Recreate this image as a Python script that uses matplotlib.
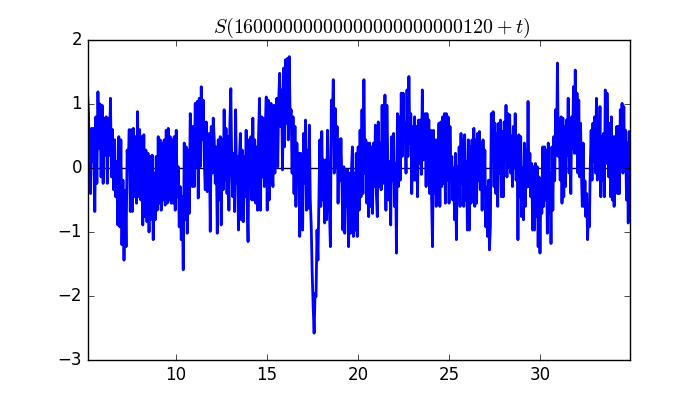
import numpy as np
import matplotlib
matplotlib.use("Agg")
from matplotlib import pyplot as plt

plt.style.use("classic")

# t where each read-off chunk of the signal starts (last entry = end of data)
chunk_edges = [5.15, 8.756, 12.49, 16.22, 19.95, 23.68, 27.41, 31.14, 34.92]

s1 = [1.2, 0.85, -0.14, -0.4, 0.62, 0.1, 0.62, -0.68, 0.8, -0.24,
      1.19, 0.3, 1.0, -0.14, 0.98, -0.24, 0.78, 0.2, 0.8, -0.24,
      0.78, 0.2, 1.09, -0.14, 0.6, -0.34, 0.44, -0.45, 0.1, -0.89,
      0.49, -0.92, 0.44, -1.2, -0.19, -1.44, -0.35, -1.23, 0.28, 0.0,
      0.6, -0.68, 0.6, -0.68, 0.62, -0.45, 0.49, -0.55, 0.88, -0.45,
      0.6, -0.5, 0.49, -0.89, 0.52, -0.76, 0.28, -0.84, 0.23, -1.0,
      0.18, -0.8, 0.2]
s2 = [-1.12, -0.08, -0.81, 0.18, -0.66, 0.49, -0.55, 0.44, -0.66, 0.39,
      -0.5, 0.44, -0.58, 0.59, -0.55, 0.62, -0.5, 0.49, -0.55, 0.44,
      -0.55, 0.49, -0.66, 0.59, -0.45, 0.02, -0.92, -0.29, -1.12, -0.45,
      -1.59, 0.39, -0.81, 0.33, -1.02, 0.28, -0.71, 0.85, 0.49, -0.29,
      0.65, -0.29, 1.01, 0.02, 1.04, -0.47, 1.09, 0.02, 1.27, 0.44,
      1.06, 0.125, -0.34, 0.72, -0.37, 0.28, 0.54, -0.99, 0.65, -0.08,
      0.78, 0.44, -0.24, 0.33, -1.02, 0.44, -0.5, 0.49]
s3 = [-0.89, 0.44, -0.34, 0.91, -0.19, 0.62, -0.4, 0.49, -0.66, 0.7,
      1.24, 0.02, -0.45, 0.23, -0.68, 0.91, -0.24, 0.18, -0.97, 0.18,
      0.54, -0.81, 0.28, -0.84, 0.18, -0.45, 0.59, -0.5, -1.15, 0.44,
      -0.29, 0.49, -0.5, 0.78, -0.5, 0.44, -0.55, 0.33, -0.66, 0.54,
      1.09, -0.66, 0.8, -0.14, 0.78, -0.29, 0.65, 1.11, -0.66, 1.06,
      -0.5, 0.88, 1.01, -0.03, -0.29, 0.98, -0.08, 0.75, 1.09, 0.02,
      1.06, 1.48, 0.65, 1.22, -0.03, 1.56, 0.33, 1.69, 0.7, 1.71,
      0.44]
s4 = [1.74, 0.75, 0.91, -0.08, 0.8, -0.4, 0.65, -0.6, 0.39, -0.19,
      0.23, -1.07, 0.23, -0.5, -0.97, 0.54, -0.24, 0.75, -0.66, 0.28,
      -0.63, 0.67, -0.5, -0.92, -1.65, -2.17, -2.58, -1.96, -2.01, -0.97,
      -1.44, -0.45, 0.44, -0.6, 0.57, -0.5, 0.125, -0.86, 0.125, -0.81,
      0.59, -0.19, -0.66, -1.23, 1.06, 0.7, 1.38, -0.08, 0.93, 0.02,
      0.65, -0.55, 0.44, -0.2, 0.46, -0.19, -0.97, 0.02, -1.02, -0.03,
      -0.6, -0.03, -1.23, -0.08, -1.02, -0.03, 0.33, -1.07, -0.08, -0.97,
      0.23]
s5 = [-1.07, 0.33, -0.66, 0.59, -0.45, 0.91, -0.4, 1.38, -0.08, 0.44,
      -0.55, 0.39, -0.76, 0.39, -0.6, 0.33, -0.71, 0.39, -0.29, 0.67,
      -0.4, -0.76, 0.72, -0.29, 0.39, -0.34, 0.98, -0.24, 0.44, 1.14,
      -0.66, 0.98, 0.125, -0.5, 0.1, -0.89, 0.49, -0.2, 0.54, -0.6,
      0.07, -1.33, 0.85, -0.29, 0.8, -0.19, 1.17, 0.18, 1.17, 0.44,
      0.7, -0.08, 1.22, 0.18, 1.43, 0.39, 0.85, -0.4, 0.65, -0.19,
      0.8, -0.19, 0.65, -0.45, 0.75, 0.07, 0.75, -0.1, 1.22, 0.125,
      0.75]
s6 = [0.85, -0.29, 0.85, -0.08, 0.75, -0.4, 0.59, -0.5, -1.23, 0.59,
      -0.4, 0.44, -0.6, 0.44, -0.19, 0.7, -0.6, 0.72, -0.29, 0.8,
      -0.24, 0.85, -0.55, 0.85, -0.19, 0.8, -0.55, 0.65, -0.08, 0.18,
      -0.5, 0.0, -0.81, 0.23, -1.12, 0.02, -0.3, 0.33, -0.6, 0.54,
      -0.24, 0.44, -0.6, 0.52, -0.5, 0.1, -0.97, 0.44, -0.97, 0.33,
      -0.55, 0.44, -0.34, 0.62, -0.6, 0.44, -0.55, 0.54, -0.2, 0.57,
      -0.34, 0.39, -0.66, 0.44, -0.4, 0.28, -0.92, -0.3, -1.07, -0.19,
      -1.28, -0.92, 0.85, 0.1]
s7 = [0.88, -0.29, 0.7, -0.4, 0.54, -0.6, 0.7, -0.08, 0.75, -0.45,
      0.57, -0.45, 0.72, 0.1, 0.98, -0.14, 0.85, 0.02, 0.83, -0.08,
      0.5, -0.29, 0.65, 0.0, 0.85, -0.19, 0.44, -1.12, 0.52, -0.45,
      0.49, -0.76, 0.0, -0.81, 0.39, -0.6, 0.28, -0.3, 1.04, -0.29,
      0.23, -0.45, 0.07, -0.97, 0.02, -0.97, 0.07, -0.76, 0.02, -1.23,
      -0.14, -1.33, -0.24, -0.71, 0.33, -0.6, 0.33, -0.5, 0.28, -1.02,
      0.39, -0.71, -0.08, -1.18, 0.33, -0.66, 0.49, -0.2, 0.91, 0.2,
      1.64, 0.18, 0.54, -0.19]
s8 = [0.8, -0.55, 0.78, -0.45, 0.65, -0.29, 0.75, 0.2, 1.09, -0.08,
      0.3, -0.4, 0.8, 0.3, 1.27, 0.23, 1.53, 0.23, 1.17, -0.08,
      1.06, -0.14, 0.7, -0.08, -0.6, 0.39, -0.6, -0.2, -0.76, -0.4,
      -1.12, -0.6, -0.92, 0.02, 0.59, -0.19, 0.7, 0.1, 0.8, -0.08,
      1.09, -0.19, 0.65, 0.0, 0.96, -0.45, 0.49, -0.19, 0.54, -0.45,
      1.22, 0.07, 1.17, 0.44, -0.14, 0.7, -0.45, 0.8, -0.5, 0.49,
      -0.6, 0.49, -0.24, 0.65, -0.4, 0.65, -0.4, 0.91, 0.2, 1.01,
      -0.08, 0.96, 0.02, 0.59, -0.5, 0.39, -0.86, 0.57, -0.81]

chunks = [s1, s2, s3, s4, s5, s6, s7, s8]

t_parts = []
for i, c in enumerate(chunks):
    last = i == len(chunks) - 1
    t_parts.append(np.linspace(chunk_edges[i], chunk_edges[i + 1], len(c), endpoint=last))
t = np.concatenate(t_parts)
S = np.concatenate([np.array(c) for c in chunks])

title_offset = "16" + "0" * 21 + "120"

fig = plt.figure(figsize=(7, 4), dpi=100)
ax = fig.add_subplot(111)
ax.axhline(0, color="k", linewidth=1, zorder=1)
ax.plot(t, S, color="b", linewidth=2, zorder=2)
ax.set_xlim(t[0], t[-1])
ax.set_ylim(-3, 2)
ax.set_title(r"$S(%s+t)$" % title_offset)
ax.title.set_x(0.524)

fig.savefig("out.png", dpi=100)
